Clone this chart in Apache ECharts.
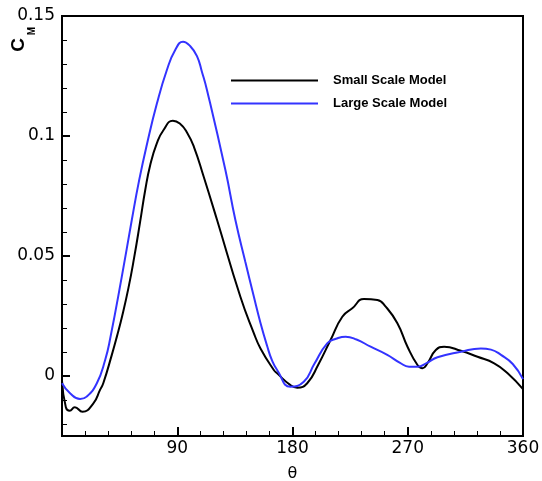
<!DOCTYPE html>
<html>
<head>
<meta charset="utf-8">
<script src="https://cdn.jsdelivr.net/npm/echarts@6/dist/echarts.min.js"></script>
<style>
html,body{margin:0;padding:0;background:#fff;}
#chart{width:542px;height:481px;}
</style>
</head>
<body>
<div id="chart"></div>
<script>
// ---- data ----
var smallTheta = [0, 3, 6, 10, 16, 24.5, 29.7, 32.3, 38.9, 42.8, 47, 51.9, 56.3, 61, 65, 68.9, 74.1, 79.3, 86.6, 92, 97.6, 103, 110.6, 121.1, 139.3, 149.7, 155, 165.4, 168, 178.4, 183.7, 191.5, 200, 209.7, 218.9, 226.7, 235.8, 246.3, 252.8, 261.9, 269.8, 277.6, 281.5, 285.4, 291.9, 298.4, 311.5, 324.5, 337.5, 348, 360];
var smallCM = [-0.002, -0.013, -0.0145, -0.013, -0.0149, -0.0114, -0.0058, -0.0029, 0.0088, 0.0163, 0.025, 0.0367, 0.0492, 0.0642, 0.0775, 0.0879, 0.097, 0.1025, 0.1064, 0.1052, 0.1015, 0.0955, 0.0831, 0.065, 0.033, 0.018, 0.0115, 0.0025, 0.0011, -0.0038, -0.0049, -0.003, 0.0046, 0.015, 0.0247, 0.0282, 0.0321, 0.0317, 0.0289, 0.022, 0.0122, 0.0046, 0.0032, 0.0053, 0.0108, 0.0122, 0.0105, 0.008, 0.0053, 0.0011, -0.0055];

var largeTheta = [0, 6.3, 14.1, 19.3, 27.2, 33.7, 37.6, 46.7, 54.5, 60.3, 66.3, 74.1, 81.9, 88.4, 94.5, 100.2, 105.4, 109.3, 113.2, 127.6, 135.4, 143.2, 149.7, 155, 160.2, 164, 168, 178.4, 188.8, 197, 207.1, 214, 221.5, 230, 241, 254, 264, 271, 277.6, 285, 293.2, 311.5, 327.1, 335, 342.8, 352, 360];
var largeCM = [-0.003, -0.0072, -0.0096, -0.0086, -0.003, 0.0067, 0.0155, 0.0414, 0.065, 0.0817, 0.0965, 0.1135, 0.1275, 0.1358, 0.1393, 0.1374, 0.1333, 0.1267, 0.1192, 0.0858, 0.065, 0.0475, 0.0333, 0.0221, 0.0125, 0.0065, 0.0025, -0.0045, -0.0024, 0.005, 0.0136, 0.0155, 0.0164, 0.0152, 0.0122, 0.0088, 0.0055, 0.0039, 0.0039, 0.0055, 0.0078, 0.0101, 0.0115, 0.011, 0.0088, 0.005, -0.0013];

var seriesNames = ['Small Scale Model', 'Large Scale Model'];
var xMajor = [90, 180, 270, 360];
var yMajor = [0, 0.05, 0.1, 0.15];
var yMinor = [-0.02, -0.01, 0.01, 0.02, 0.03, 0.04, 0.06, 0.07, 0.08, 0.09, 0.11, 0.12, 0.13, 0.14];

function pairs(xs, ys) { return xs.map(function (x, i) { return [x, ys[i]]; }); }

var chart = echarts.init(document.getElementById('chart'), null, { renderer: 'canvas' });
var axisFont = { fontFamily: 'DejaVu Sans', fontSize: 17, color: '#000' };

chart.setOption({
  animation: false,
  backgroundColor: '#fff',
  grid: { left: 62, right: 19, top: 16, bottom: 45, containLabel: false, outerBoundsMode: 'none',
          show: true, borderColor: '#000', borderWidth: 2, backgroundColor: 'transparent' },
  legend: {
    orient: 'vertical', left: 231, top: 74, padding: 0, itemWidth: 87, itemHeight: 2, itemGap: 10,
    icon: 'rect',
    textStyle: { fontFamily: 'Liberation Sans', fontWeight: 'bold', fontSize: 13, color: '#000', padding: [0, 0, 0, 10] },
    data: seriesNames
  },
  xAxis: {
    type: 'value', min: 0, max: 360, interval: 90,
    name: 'θ', nameLocation: 'middle', nameGap: 30,
    nameTextStyle: { fontFamily: 'DejaVu Sans', fontSize: 16, color: '#000' },
    axisLine: { onZero: false, lineStyle: { color: '#000', width: 2 } },
    axisTick: { inside: true, length: 9, lineStyle: { color: '#000', width: 2 } },
    minorTick: { show: true, splitNumber: 5, length: 5, lineStyle: { color: '#000', width: 1 } },
    axisLabel: Object.assign({ margin: 4, customValues: xMajor }, axisFont),
    splitLine: { show: false }
  },
  yAxis: [{
    type: 'value', min: -0.025, max: 0.15,
    axisLine: { onZero: false, lineStyle: { color: '#000', width: 2 } },
    axisTick: { inside: true, length: 8, customValues: yMajor, lineStyle: { color: '#000', width: 2 } },
    axisLabel: Object.assign({ margin: 7, customValues: yMajor }, axisFont),
    splitLine: { show: false }
  }, {
    type: 'value', min: -0.025, max: 0.15, position: 'left',
    axisLine: { show: false, onZero: false },
    axisTick: { show: true, inside: true, length: 5, customValues: yMinor, lineStyle: { color: '#000', width: 1 } },
    axisLabel: { show: false },
    splitLine: { show: false }
  }],
  graphic: [
    { type: 'text', x: 19, y: 45, rotation: Math.PI / 2,
      style: { text: 'C', fontFamily: 'Liberation Sans', fontWeight: 'bold', fontSize: 19, fill: '#000', align: 'center', verticalAlign: 'middle' } },
    { type: 'text', x: 32, y: 31, rotation: Math.PI / 2,
      style: { text: 'M', fontFamily: 'Liberation Sans', fontWeight: 'bold', fontSize: 10, fill: '#000', align: 'center', verticalAlign: 'middle' } }
  ],
  series: [{
    name: seriesNames[0], type: 'line', data: pairs(smallTheta, smallCM),
    smooth: 0.5, showSymbol: false, symbol: 'none', color: '#000',
    lineStyle: { color: '#000', width: 2 }
  }, {
    name: seriesNames[1], type: 'line', data: pairs(largeTheta, largeCM),
    smooth: 0.5, showSymbol: false, symbol: 'none', color: '#3333ff',
    lineStyle: { color: '#3333ff', width: 2 }
  }]
});
</script>
</body>
</html>
